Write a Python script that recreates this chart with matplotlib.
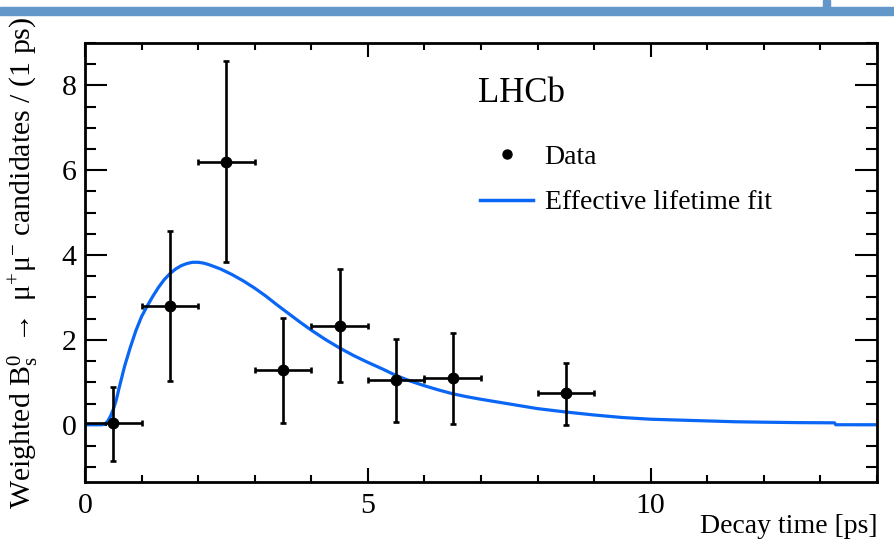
import matplotlib
matplotlib.use('Agg')
import matplotlib.pyplot as plt
from matplotlib.lines import Line2D
from matplotlib.patches import Rectangle
from matplotlib.ticker import MultipleLocator

# binned data (1 ps bins)
t_data = [0.5, 1.5, 2.5, 3.5, 4.5, 5.5, 6.5, 8.5]
n_data = [0.05, 2.80, 6.20, 1.30, 2.33, 1.05, 1.10, 0.75]
err_up = [0.85, 1.77, 2.37, 1.22, 1.34, 0.98, 1.06, 0.70]
err_dn = [0.90, 1.78, 2.37, 1.27, 1.33, 0.98, 1.08, 0.75]
t_halfwidth = [0.5] * len(t_data)

# fitted curve
t_fit = [0.0, 0.30, 0.35, 0.40, 0.45, 0.50, 0.55, 0.60, 0.70, 0.80, 0.90,
         1.0, 1.1, 1.2, 1.3, 1.4, 1.5, 1.6, 1.7, 1.8, 1.9, 2.0, 2.1, 2.2,
         2.3, 2.4, 2.6, 2.8, 3.0, 3.2, 3.4, 3.6, 3.8, 4.0, 4.25, 4.5, 4.75,
         5.0, 5.25, 5.5, 5.75, 6.0, 6.25, 6.5, 6.75, 7.0, 7.5, 8.0, 8.5,
         9.0, 9.5, 10.0, 10.5, 11.0, 11.5, 12.0, 12.6, 13.25, 13.27, 14.0]
n_fit = [0.0, 0.0, 0.02, 0.08, 0.20, 0.36, 0.57, 0.85, 1.38, 1.82, 2.22,
         2.55, 2.80, 3.03, 3.24, 3.42, 3.56, 3.67, 3.75, 3.80, 3.83, 3.83,
         3.81, 3.77, 3.72, 3.67, 3.54, 3.39, 3.22, 3.03, 2.82, 2.62, 2.42,
         2.23, 2.01, 1.81, 1.63, 1.47, 1.32, 1.16, 1.03, 0.92, 0.82, 0.73,
         0.66, 0.60, 0.49, 0.38, 0.30, 0.23, 0.17, 0.13, 0.11, 0.09, 0.07,
         0.06, 0.05, 0.045, 0.0, 0.0]

plt.rcParams['font.family'] = ['Liberation Serif', 'DejaVu Serif']
plt.rcParams['mathtext.fontset'] = 'custom'
plt.rcParams['mathtext.rm'] = 'Liberation Serif'
plt.rcParams['mathtext.it'] = 'Liberation Serif:italic'

fig = plt.figure(figsize=(8.94, 5.56), dpi=100)
ax = fig.add_axes([85 / 894, 1 - 482 / 556, 792 / 894, 439 / 556])

# slide decoration at the top
fig.patches.append(Rectangle((0, 1 - 15 / 556), 1, 8 / 556,
                             transform=fig.transFigure, color='#6497c9'))
fig.patches.append(Rectangle((823 / 894, 1 - 8 / 556), 7 / 894, 8 / 556,
                             transform=fig.transFigure, color='#6497c9'))

blue = '#0a66f5'
ax.plot(t_fit, n_fit, color=blue, lw=2.3, zorder=2)
ax.errorbar(t_data, n_data, xerr=t_halfwidth, yerr=[err_dn, err_up],
            fmt='o', color='black', ms=7.5, elinewidth=1.9, capsize=2.5,
            capthick=1.9, zorder=3)

ax.set_xlim(0, 14)
ax.set_ylim(-1.35, 9.0)
ax.xaxis.set_major_locator(MultipleLocator(5))
ax.xaxis.set_minor_locator(MultipleLocator(1))
ax.yaxis.set_major_locator(MultipleLocator(2))
ax.yaxis.set_minor_locator(MultipleLocator(0.5))
for s in ax.spines.values():
    s.set_linewidth(2)
ax.tick_params(which='both', direction='in', top=True, right=True,
               labelsize=21.5, width=1.5)
ax.tick_params(axis='x', which='major', length=10, pad=8)
ax.tick_params(axis='x', which='minor', length=5)
ax.tick_params(axis='y', which='major', length=16, pad=6)
ax.tick_params(axis='y', which='minor', length=8)

ax.set_xlabel('Decay time [ps]', fontsize=20)
ax.xaxis.set_label_coords(1.0, -0.072)
ax.xaxis.label.set_horizontalalignment('right')
ax.set_ylabel(r'Weighted B$_{\rm s}^{0}$ $\rightarrow$ μ$^{+}$μ$^{-}$ '
              r'candidates / (1 ps)', fontsize=21.5)
ax.yaxis.set_label_coords(-0.056, 0.5)

ax.text(0.496, 0.866, 'LHCb', transform=ax.transAxes, fontsize=25,
        va='baseline', ha='left')

handles = [Line2D([], [], ls='none', marker='o', color='black', ms=6.5),
           Line2D([], [], color=blue, lw=2.5)]
ax.legend(handles, ['Data', 'Effective lifetime fit'], loc='upper left',
          bbox_to_anchor=(0.499, 0.769), frameon=False, fontsize=20,
          borderpad=0, borderaxespad=0, handlelength=1.9,
          handletextpad=0.42, labelspacing=0.72)

fig.savefig('out.png', dpi=100)
